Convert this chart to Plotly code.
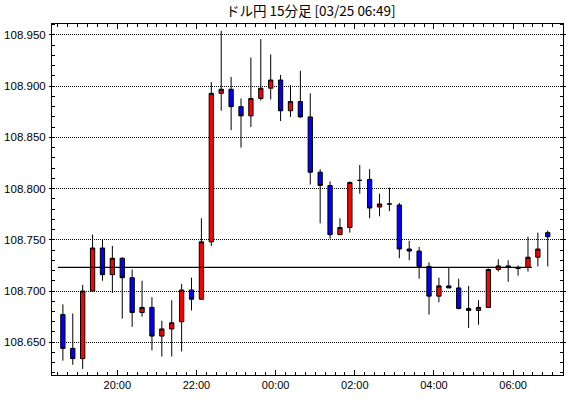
import pandas as pd
import plotly.graph_objects as go

# 15-minute bars, 03/24 18:30 -> 03/25 06:45
bar_start = "2019-03-24 18:30"
n_bars = 50
opens = [108.677, 108.644, 108.634, 108.700, 108.742, 108.716, 108.732, 108.713, 108.679, 108.684,
         108.656, 108.663, 108.670, 108.701, 108.692, 108.748, 108.893, 108.897, 108.880, 108.871,
         108.888, 108.898, 108.906, 108.876, 108.885, 108.870, 108.816, 108.803, 108.755, 108.762,
         108.808, 108.809, 108.782, 108.785, 108.784, 108.741, 108.739, 108.724, 108.695, 108.705,
         108.703, 108.683, 108.681, 108.684, 108.721, 108.7245, 108.723, 108.723, 108.733, 108.757]
highs = [108.687, 108.678, 108.706, 108.755, 108.750, 108.744, 108.733, 108.721, 108.710, 108.694,
         108.671, 108.691, 108.707, 108.713, 108.771, 108.904, 108.954, 108.909, 108.888, 108.928,
         108.946, 108.931, 108.911, 108.901, 108.915, 108.893, 108.819, 108.807, 108.771, 108.807,
         108.823, 108.819, 108.795, 108.801, 108.786, 108.749, 108.743, 108.728, 108.713, 108.723,
         108.712, 108.705, 108.691, 108.722, 108.731, 108.730, 108.725, 108.753, 108.757, 108.759]
lows = [108.632, 108.628, 108.624, 108.700, 108.710, 108.698, 108.673, 108.665, 108.675, 108.642,
        108.636, 108.636, 108.641, 108.681, 108.692, 108.744, 108.876, 108.857, 108.840, 108.860,
        108.886, 108.887, 108.866, 108.870, 108.869, 108.804, 108.766, 108.751, 108.755, 108.757,
        108.795, 108.771, 108.773, 108.778, 108.732, 108.730, 108.712, 108.677, 108.689, 108.703,
        108.682, 108.664, 108.667, 108.684, 108.719, 108.709, 108.715, 108.719, 108.724, 108.724]
closes = [108.644, 108.634, 108.700, 108.742, 108.716, 108.732, 108.713, 108.679, 108.684, 108.656,
          108.663, 108.669, 108.701, 108.692, 108.748, 108.893, 108.897, 108.880, 108.871, 108.888,
          108.898, 108.906, 108.876, 108.885, 108.870, 108.816, 108.803, 108.755, 108.762, 108.806,
          108.808, 108.781, 108.785, 108.785, 108.741, 108.739, 108.724, 108.695, 108.705, 108.703,
          108.683, 108.681, 108.684, 108.721, 108.7245, 108.723, 108.722, 108.733, 108.741, 108.753]
ref_level = 108.723
y_ticks = [108.650, 108.700, 108.750, 108.800, 108.850, 108.900, 108.950]
title_text = "ドル円 15分足 [03/25 06:49]"

# candles drawn at the middle of each 15-minute interval
x = pd.date_range(bar_start, periods=n_bars, freq="15min") + pd.Timedelta(minutes=7.5)

fig = go.Figure()
fig.add_trace(go.Candlestick(
    x=x, open=opens, high=highs, low=lows, close=closes,
    increasing=dict(fillcolor="#ff0000", line=dict(color="#000000", width=1)),
    decreasing=dict(fillcolor="#0000ff", line=dict(color="#000000", width=1)),
    whiskerwidth=0, showlegend=False, hoverinfo="skip",
))

fig.add_shape(type="line", xref="x", yref="y",
              x0=x[0] - pd.Timedelta(minutes=7.5), x1=x[-1] - pd.Timedelta(minutes=24),
              y0=ref_level, y1=ref_level, line=dict(color="#000000", width=1.2))

fig.add_annotation(text=title_text, xref="paper", yref="paper",
                   x=0.3366, xanchor="left", y=1.0, yshift=14, yanchor="middle",
                   showarrow=False,
                   font=dict(family="Noto Sans CJK JP", size=13.5, color="#000000"))

x_range = [x[0] - pd.Timedelta(minutes=16.5), x[-1] + pd.Timedelta(minutes=23.1)]

fig.update_layout(
    width=570, height=398,
    margin=dict(l=49, r=4, t=24, b=23),
    paper_bgcolor="white", plot_bgcolor="white",
    font=dict(family="Liberation Sans", size=11, color="#000000"),
    boxgap=0.38,
    xaxis=dict(
        type="date", range=x_range, rangeslider=dict(visible=False),
        tick0="2019-03-24 20:00", dtick=2 * 3600 * 1000, tickformat="%H:%M",
        ticks="inside", ticklen=5, tickcolor="#000000", tickwidth=1,
        minor=dict(dtick=15 * 60 * 1000, tick0="2019-03-24 20:00", ticks="inside",
                   ticklen=3, tickcolor="#000000", showgrid=False),
        showline=True, linecolor="#000000", linewidth=1, mirror="allticks",
        showgrid=False, zeroline=False,
        tickfont=dict(family="Liberation Sans", size=11, color="#000000"),
    ),
    yaxis=dict(
        range=[108.618, 108.9607],
        tickvals=y_ticks, tickformat=".3f",
        ticks="outside", ticklen=2, tickcolor="#000000",
        ticklabelstandoff=1,
        minor=dict(dtick=0.01, tick0=108.65, ticks="inside", ticklen=3,
                   tickcolor="#000000", showgrid=False),
        showline=True, linecolor="#000000", linewidth=1, mirror="allticks",
        showgrid=True, gridcolor="#000000", griddash="1px,1px", gridwidth=1,
        zeroline=False,
        tickfont=dict(family="Liberation Sans", size=11.5, color="#000000"),
    ),
)

fig.write_html("out.html")
